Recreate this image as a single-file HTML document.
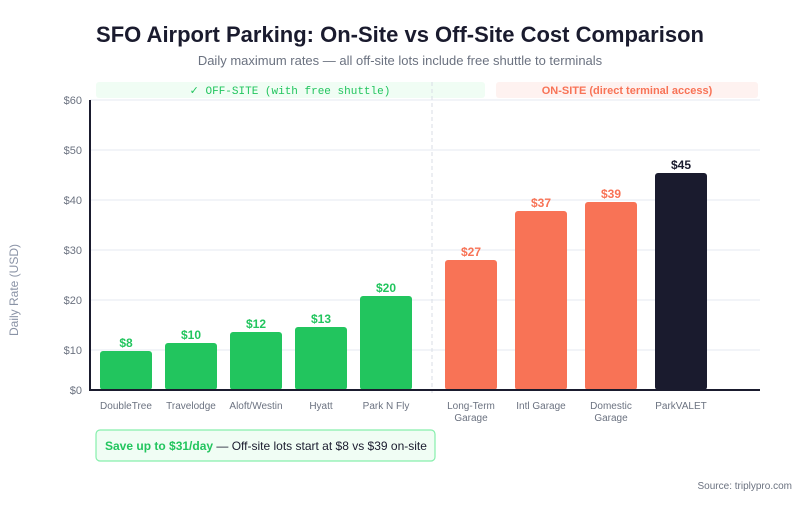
<!DOCTYPE html>
<html><head><meta charset="utf-8"><style>
body{margin:0;background:#fff;width:800px;height:500px;overflow:hidden;font-family:"Liberation Sans",sans-serif}
</style></head><body>
<svg width="800" height="500" xmlns="http://www.w3.org/2000/svg" font-family="Liberation Sans, sans-serif">
<rect width="800" height="500" fill="#fff"/>
<text x="400" y="42" text-anchor="middle" font-size="22" font-weight="bold" fill="#1a1b2e">SFO Airport Parking: On-Site vs Off-Site Cost Comparison</text>
<text x="400" y="65" text-anchor="middle" font-size="13" fill="#6b7280">Daily maximum rates — all off-site lots include free shuttle to terminals</text>
<rect x="96" y="82" width="389" height="16" rx="3" fill="#f0fdf4"/>
<text x="290" y="94" text-anchor="middle" font-size="11" font-family="Liberation Mono, monospace" fill="#22c55e">✓ OFF-SITE (with free shuttle)</text>
<rect x="496" y="82" width="262" height="16" rx="3" fill="#fef2f0"/>
<text x="627" y="94" text-anchor="middle" font-size="11" font-weight="bold" fill="#f87356">ON-SITE (direct terminal access)</text>
<g stroke="#eef1f6" stroke-width="1.5">
<line x1="90" x2="760" y1="100" y2="100"/><line x1="90" x2="760" y1="150" y2="150"/><line x1="90" x2="760" y1="200" y2="200"/><line x1="90" x2="760" y1="250" y2="250"/><line x1="90" x2="760" y1="300" y2="300"/><line x1="90" x2="760" y1="350" y2="350"/>
</g>
<g font-size="11" fill="#6b7280" text-anchor="end">
<text x="82" y="104">$60</text><text x="82" y="154">$50</text><text x="82" y="204">$40</text><text x="82" y="254">$30</text><text x="82" y="304">$20</text><text x="82" y="354">$10</text><text x="82" y="394">$0</text>
</g>
<text transform="translate(18,290) rotate(-90)" text-anchor="middle" font-size="12" fill="#8a93a6">Daily Rate (USD)</text>
<line x1="432" x2="432" y1="82" y2="393" stroke="#d8dde6" stroke-dasharray="4,3"/>
<g fill="#22c55e">
<rect x="100" y="351" width="52" height="39" rx="3"/><rect x="165" y="343" width="52" height="47" rx="3"/><rect x="230" y="332" width="52" height="58" rx="3"/><rect x="295" y="327" width="52" height="63" rx="3"/><rect x="360" y="296" width="52" height="94" rx="3"/>
</g>
<g fill="#f87356">
<rect x="445" y="260" width="52" height="130" rx="3"/><rect x="515" y="211" width="52" height="179" rx="3"/><rect x="585" y="202" width="52" height="188" rx="3"/>
</g>
<rect x="655" y="173" width="52" height="217" rx="3" fill="#1a1b2e"/>
<g font-size="12" font-weight="bold" text-anchor="middle">
<g fill="#22c55e"><text x="126" y="347">$8</text><text x="191" y="339">$10</text><text x="256" y="328">$12</text><text x="321" y="323">$13</text><text x="386" y="292">$20</text></g>
<g fill="#f87356"><text x="471" y="256">$27</text><text x="541" y="207">$37</text><text x="611" y="198">$39</text></g>
<text x="681" y="169" fill="#1a1b2e">$45</text>
</g>
<line x1="90" x2="90" y1="100" y2="391" stroke="#1a1b2e" stroke-width="2"/>
<line x1="89" x2="760" y1="390" y2="390" stroke="#1a1b2e" stroke-width="2"/>
<g font-size="10" fill="#6b7280" text-anchor="middle">
<text x="126" y="409">DoubleTree</text><text x="191" y="409">Travelodge</text><text x="256" y="409">Aloft/Westin</text><text x="321" y="409">Hyatt</text><text x="386" y="409">Park N Fly</text>
<text x="471" y="409">Long-Term</text><text x="471" y="421">Garage</text><text x="541" y="409">Intl Garage</text><text x="611" y="409">Domestic</text><text x="611" y="421">Garage</text><text x="681" y="409">ParkVALET</text>
</g>
<rect x="96" y="430" width="339" height="31" rx="4" fill="#f0fdf4" stroke="#86efac" stroke-width="1.2"/>
<text x="105" y="450" font-size="12" fill="#1a1b2e"><tspan font-weight="bold" fill="#22c55e">Save up to $31/day</tspan> — Off-site lots start at $8 vs $39 on-site</text>
<text x="792" y="489" text-anchor="end" font-size="10" fill="#6b7280">Source: triplypro.com</text>
</svg>
</body></html>
